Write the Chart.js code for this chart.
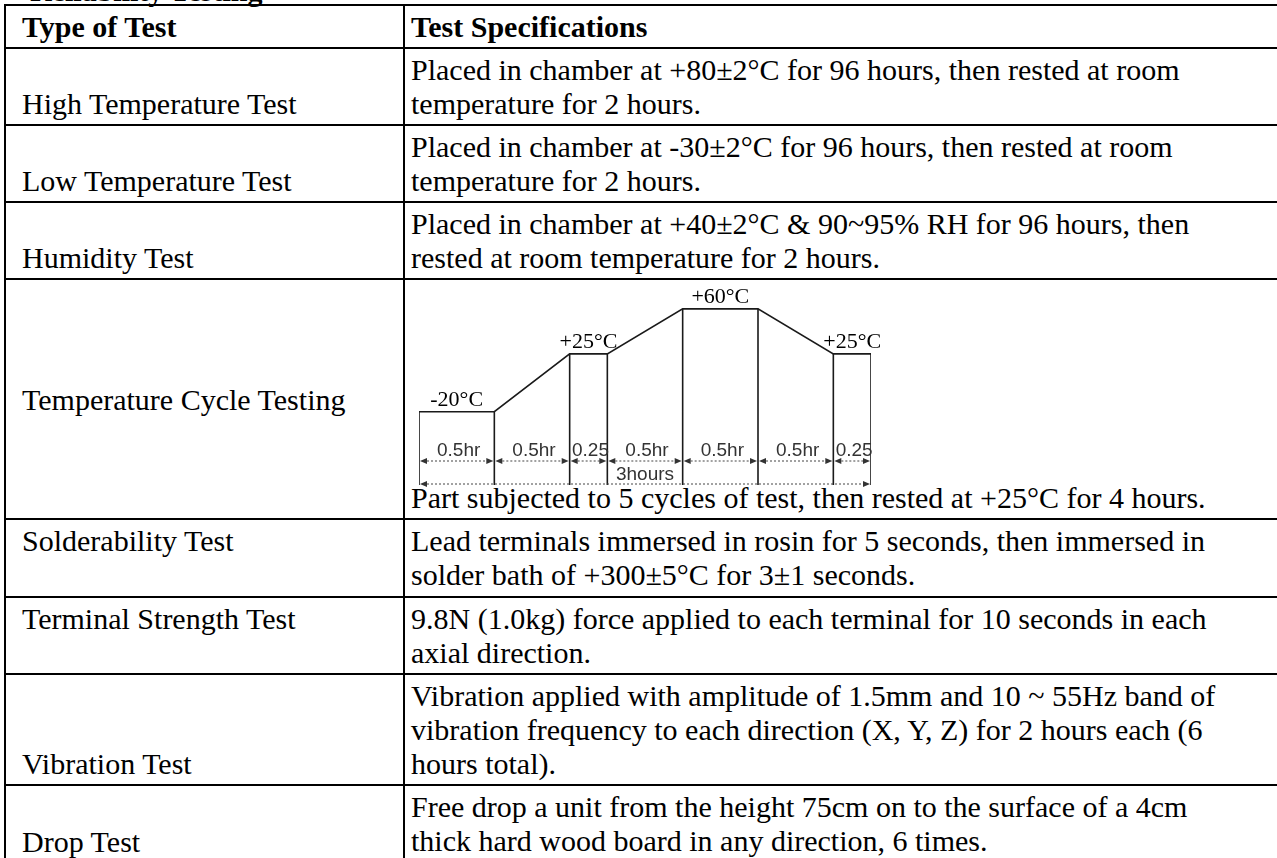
<!DOCTYPE html>
<html>
<head>
<meta charset="utf-8">
<script src="https://cdn.jsdelivr.net/npm/chart.js@4"></script>
<style>
  body { margin: 0; background: #fff; overflow: hidden; }
  .title { position: absolute; left: 30px; top: -26px; font: bold 30px 'Liberation Serif', serif; margin: 0; }
  table { position: absolute; left: 4px; top: 4px; border-collapse: collapse; table-layout: fixed; width: 1300px;
          font: 30px/34px 'Liberation Serif', serif; color: #000; }
  td { border: 2px solid #000; padding: 4px 6px 3px 6px; white-space: nowrap; vertical-align: top; }
  td.lab { padding-left: 16px; vertical-align: bottom; }
  td.top { vertical-align: top; }
  td.mid { vertical-align: middle; }
  td.spec-bottom { vertical-align: bottom; }
  #cycleBox { position: absolute; left: 405px; top: 279px; width: 480px; height: 212px; }
</style>
</head>
<body>
<div class="title">Reliability Testing</div>
<table>
  <colgroup><col style="width:399px"><col></colgroup>
  <tr style="height:37px"><td class="lab top"><b>Type of Test</b></td><td><b>Test Specifications</b></td></tr>
  <tr style="height:77px"><td class="lab">High Temperature Test</td><td>Placed in chamber at +80±2°C for 96 hours, then rested at room<br>temperature for 2 hours.</td></tr>
  <tr style="height:77px"><td class="lab">Low Temperature Test</td><td>Placed in chamber at -30±2°C for 96 hours, then rested at room<br>temperature for 2 hours.</td></tr>
  <tr style="height:77px"><td class="lab">Humidity Test</td><td>Placed in chamber at +40±2°C &amp; 90~95% RH for 96 hours, then<br>rested at room temperature for 2 hours.</td></tr>
  <tr style="height:240px"><td class="lab mid">Temperature Cycle Testing</td><td class="spec-bottom">Part subjected to 5 cycles of test, then rested at +25°C for 4 hours.</td></tr>
  <tr style="height:78px"><td class="lab top">Solderability Test</td><td>Lead terminals immersed in rosin for 5 seconds, then immersed in<br>solder bath of +300±5°C for 3±1 seconds.</td></tr>
  <tr style="height:77px"><td class="lab top">Terminal Strength Test</td><td>9.8N (1.0kg) force applied to each terminal for 10 seconds in each<br>axial direction.</td></tr>
  <tr style="height:107px"><td class="lab">Vibration Test</td><td>Vibration applied with amplitude of 1.5mm and 10 ~ 55Hz band of<br>vibration frequency to each direction (X, Y, Z) for 2 hours each (6<br>hours total).</td></tr>
  <tr style="height:78px"><td class="lab">Drop Test</td><td>Free drop a unit from the height 75cm on to the surface of a 4cm<br>thick hard wood board in any direction, 6 times.</td></tr>
</table>
<div id="cycleBox"><canvas id="cycleChart" width="480" height="212"></canvas></div>

<script>
// temperature cycle profile
const segHours = [0.5, 0.5, 0.25, 0.5, 0.5, 0.5, 0.25];
const segLabels = ['0.5hr', '0.5hr', '0.25', '0.5hr', '0.5hr', '0.5hr', '0.25'];
const edgeTemps = [-20, -20, 25, 25, 60, 60, 25, 25];
const tempLabels = ['-20°C', '+25°C', '+60°C', '+25°C'];
const totalLabel = '3hours';

const Y_MIN = -77;
const Y_MAX = 77;

// segment edges in hours
const edges = [0];
segHours.forEach(h => edges.push(edges[edges.length - 1] + h));

const profile = edges.map((t, i) => ({ x: t, y: edgeTemps[i] }));

// vertical lines from bottom up to the profile
const verticals = [];
edges.forEach((t, i) => {
    verticals.push({ x: t, y: Y_MIN });
    verticals.push({ x: t, y: edgeTemps[i] });
    verticals.push({ x: t, y: null });
});

function arrowHead(ctx, x, y, dir) {
    ctx.beginPath();
    ctx.moveTo(x, y);
    ctx.lineTo(x - dir * 7, y - 3);
    ctx.lineTo(x - dir * 7, y + 3);
    ctx.closePath();
    ctx.fill();
}

function dimLine(ctx, x1, x2, y) {
    ctx.save();
    ctx.setLineDash([2, 2]);
    ctx.lineWidth = 1;
    ctx.beginPath();
    ctx.moveTo(x1 + 4, y);
    ctx.lineTo(x2 - 4, y);
    ctx.stroke();
    ctx.restore();
    arrowHead(ctx, x1 + 1, y, -1);
    arrowHead(ctx, x2 - 1, y, 1);
}

const annotations = {
    id: 'annotations',
    afterDatasetsDraw(chart) {
        const ctx = chart.ctx;
        const xs = chart.scales.x;
        const ys = chart.scales.y;
        const bottom = chart.chartArea.bottom;
        ctx.save();
        ctx.fillStyle = '#333';
        ctx.strokeStyle = '#444';

        // segment arrows and labels
        ctx.font = '19px "Liberation Sans", Arial, sans-serif';
        ctx.textAlign = 'center';
        ctx.textBaseline = 'alphabetic';
        segHours.forEach((h, i) => {
            const x1 = xs.getPixelForValue(edges[i]);
            const x2 = xs.getPixelForValue(edges[i + 1]);
            dimLine(ctx, x1, x2, bottom - 24);
            ctx.fillText(segLabels[i], (x1 + x2) / 2 + 2, bottom - 29);
        });

        // total arrow
        const xa = xs.getPixelForValue(edges[0]);
        const xb = xs.getPixelForValue(edges[edges.length - 1]);
        dimLine(ctx, xa, xb, bottom - 1);
        ctx.fillText(totalLabel, xs.getPixelForValue(1.5), bottom - 5);

        // temperature labels over the flat parts
        ctx.fillStyle = '#000';
        ctx.font = '22px "Liberation Serif", serif';
        let k = 0;
        segHours.forEach((h, i) => {
            if (edgeTemps[i] === edgeTemps[i + 1] && k < tempLabels.length) {
                const xm = xs.getPixelForValue((edges[i] + edges[i + 1]) / 2);
                ctx.fillText(tempLabels[k], xm, ys.getPixelForValue(edgeTemps[i]) - 6);
                k++;
            }
        });
        ctx.restore();
    }
};

new Chart(document.getElementById('cycleChart'), {
    type: 'line',
    data: {
        datasets: [{
            data: profile,
            borderColor: '#1a1a1a',
            borderWidth: 1.6,
            pointRadius: 0,
            tension: 0
        }, {
            data: verticals,
            borderColor: '#1a1a1a',
            borderWidth: 1.6,
            pointRadius: 0,
            spanGaps: false
        }]
    },
    options: {
        responsive: false,
        animation: false,
        layout: { padding: { left: 14, right: 14, top: 8, bottom: 6 } },
        plugins: { legend: { display: false }, tooltip: { enabled: false } },
        scales: {
            x: { type: 'linear', min: 0, max: 3, display: false },
            y: { min: Y_MIN, max: Y_MAX, display: false }
        }
    },
    plugins: [annotations]
});
</script>
</body>
</html>
